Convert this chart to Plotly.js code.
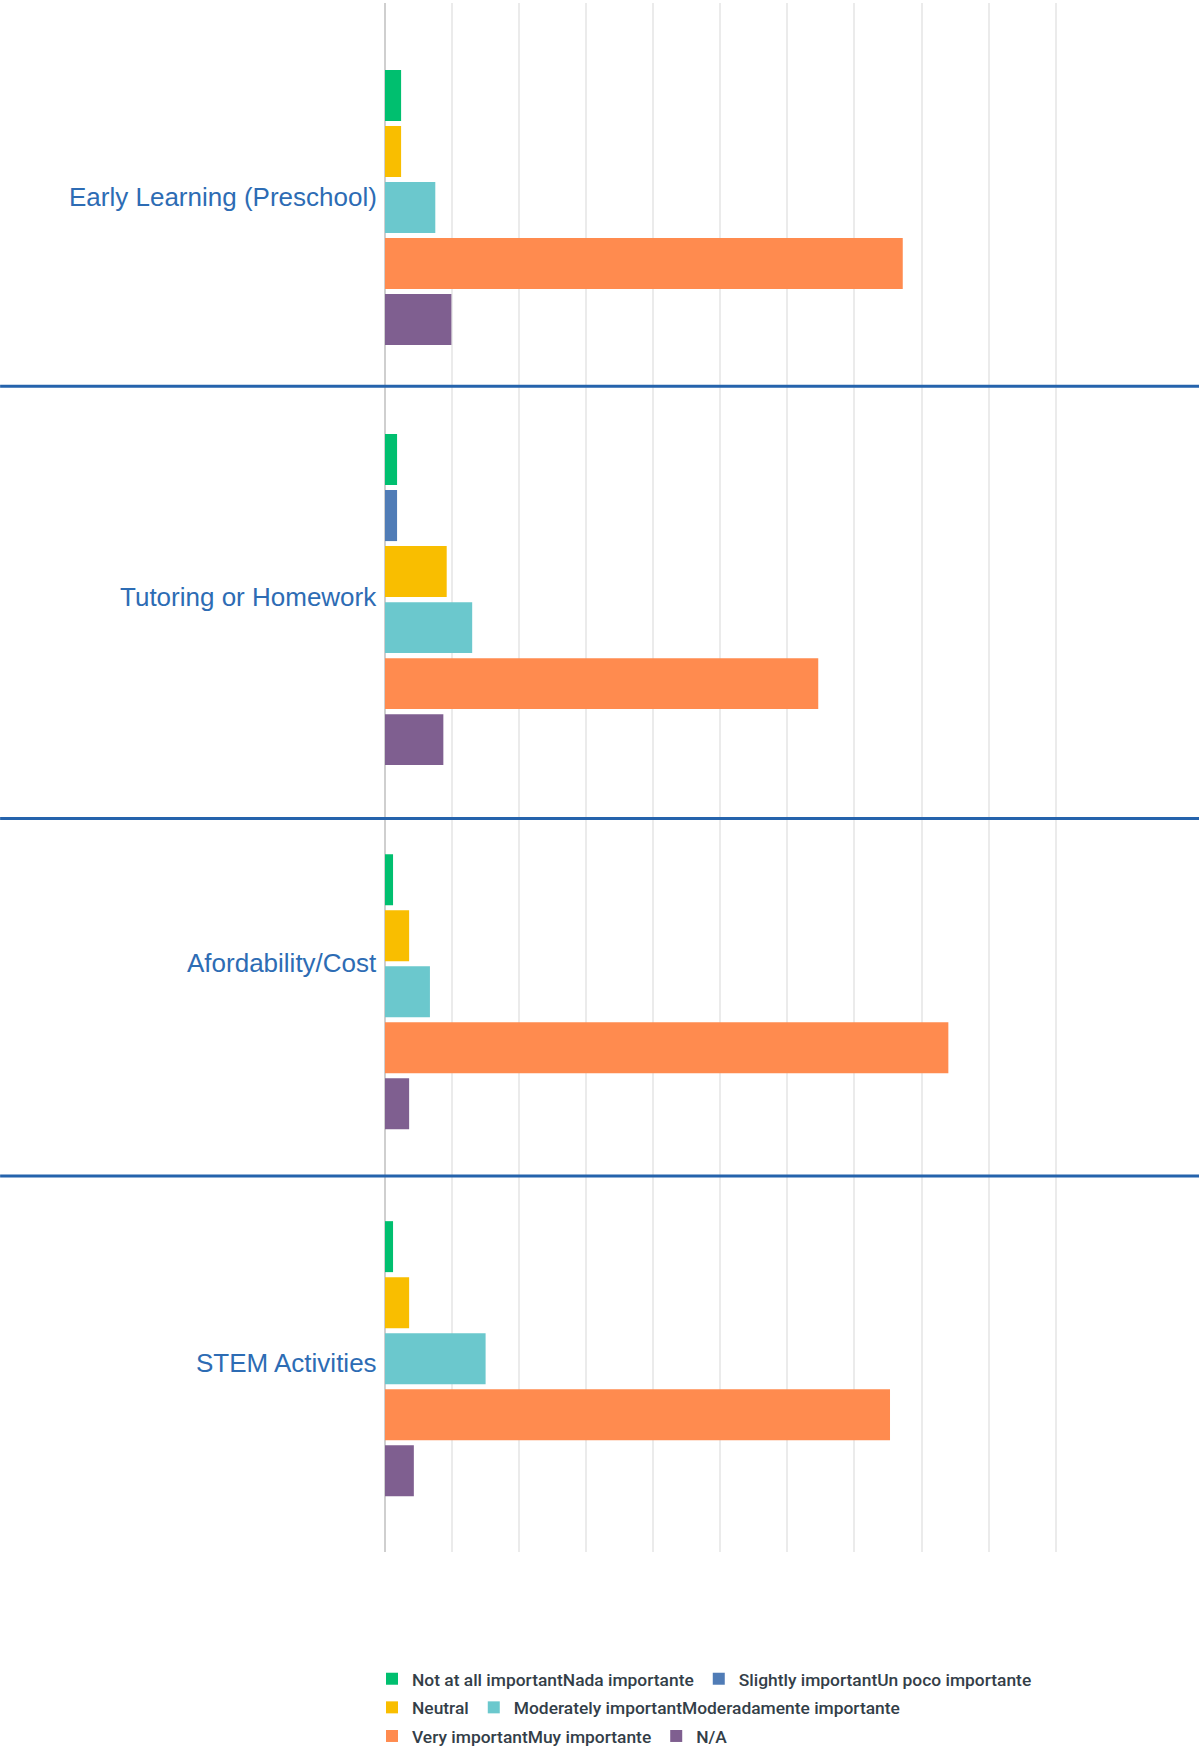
<!DOCTYPE html>
<html>
<head>
<meta charset="utf-8">
<script src="https://cdn.plot.ly/plotly-3.0.1.min.js"></script>
<style>
html,body{margin:0;padding:0;background:#ffffff;}
#chart{width:1199px;height:1752px;}
</style>
</head>
<body>
<div id="chart"></div>
<script>
// ---------- DATA (percent of respondents) ----------
const categories = ["Early Learning (Preschool)", "Tutoring or Homework", "Afordability/Cost", "STEM Activities"];
const levels = [
  "Not at all importantNada importante",
  "Slightly importantUn poco importante",
  "Neutral",
  "Moderately importantModeradamente importante",
  "Very importantMuy importante",
  "N/A"
];
const notAtAllImportant   = [2.4, 1.8, 1.2, 1.2];
const slightlyImportant   = [0,   1.8, 0,   0  ];
const neutral             = [2.4, 9.2, 3.6, 3.6];
const moderatelyImportant = [7.5, 13.0, 6.7, 15.0];
const veryImportant       = [77.2, 64.6, 84.0, 75.3];
const notApplicable       = [9.9, 8.7, 3.6, 4.3];

const seriesValues = [notAtAllImportant, slightlyImportant, neutral, moderatelyImportant, veryImportant, notApplicable];

// ---------- STYLE / LAYOUT ----------
const levelColors = ["#00bf6f", "#507cb6", "#f9be00", "#6bc8cd", "#ff8b4f", "#7f5f90"];
const W = 1199, H = 1752;
const xMax = 100.2;                 // a hair past 100 so the 100% gridline is drawn
const pxPer100 = 670.5;             // width of 0..100 %
const marginL = 384.8, marginT = 3, marginB = 200.3;
const plotW = pxPer100 * xMax / 100;
const marginR = W - marginL - plotW;
const plotH = H - marginT - marginB;
const groupEdgesPx = [3, 386.3, 818.3, 1175.7, 1551.7];
const firstBarCenterPx = [95.4, 459.5, 879.5, 1246.4];
const barPitchPx = 56;
const labelCenterPx = [196.7, 596.7, 963.2, 1363.2];
const legendLeftPx = 372;
const legendTopPx = 1660.6;
const toPaperY = py => 1 - (py - marginT) / plotH;
const axisKey = g => g === 0 ? "yaxis" : "yaxis" + (g + 1);
const axisRef = g => g === 0 ? "y" : "y" + (g + 1);

const traces = [];
levels.forEach((lvl, li) => {
  let first = true;
  categories.forEach((cat, g) => {
    const v = seriesValues[li][g];
    if (!(v > 0)) return;
    traces.push({
      type: "bar",
      orientation: "h",
      x: [v],
      y: [lvl],
      xaxis: "x",
      yaxis: axisRef(g),
      name: lvl,
      legendgroup: lvl,
      showlegend: first,
      marker: { color: levelColors[li] },
      hovertemplate: cat + "<br>" + lvl + ": %{x}%<extra></extra>"
    });
    first = false;
  });
});

const layout = {
  width: W,
  height: H,
  margin: { l: marginL, r: marginR, t: marginT, b: marginB, autoexpand: false },
  paper_bgcolor: "#ffffff",
  plot_bgcolor: "#ffffff",
  font: { family: "Roboto, 'Liberation Sans', sans-serif", color: "#333e48" },
  barmode: "overlay",
  bargap: 0.09,
  showlegend: true,
  xaxis: {
    range: [0, xMax],
    tick0: 0,
    dtick: 10,
    showgrid: true,
    gridcolor: "#ebebeb",
    gridwidth: 1.5,
    zeroline: true,
    zerolinecolor: "#cfcfcf",
    zerolinewidth: 2,
    showticklabels: false,
    ticks: "",
    showline: false,
    anchor: "y4",
    fixedrange: true
  },
  shapes: [],
  annotations: [],
  legend: {
    orientation: "h",
    xref: "container",
    x: legendLeftPx / W,
    xanchor: "left",
    yref: "paper",
    y: toPaperY(legendTopPx),
    yanchor: "top",
    bgcolor: "rgba(0,0,0,0)",
    font: { family: "Roboto, sans-serif", size: 17.4, color: "#333e48", weight: 500 },
    traceorder: "grouped",
    tracegroupgap: 3
  }
};

categories.forEach((cat, g) => {
  const present = levels.filter((l, li) => seriesValues[li][g] > 0);
  const top = -(firstBarCenterPx[g] - groupEdgesPx[g]) / barPitchPx;
  const bottom = top + (groupEdgesPx[g + 1] - groupEdgesPx[g]) / barPitchPx;
  layout[axisKey(g)] = {
    domain: [toPaperY(groupEdgesPx[g + 1]), toPaperY(groupEdgesPx[g])],
    type: "category",
    categoryorder: "array",
    categoryarray: present,
    range: [bottom, top],
    showgrid: false,
    zeroline: false,
    showline: false,
    showticklabels: false,
    ticks: "",
    anchor: "x",
    fixedrange: true
  };
  layout.annotations.push({
    text: cat,
    xref: "paper",
    x: 0,
    xanchor: "right",
    xshift: -6,
    yref: "paper",
    y: toPaperY(labelCenterPx[g]),
    yanchor: "middle",
    showarrow: false,
    font: { family: "'Liberation Sans', Arial, sans-serif", size: 26, color: "#2d6cb4" }
  });
});

// separators between the groups, spanning the full width of the figure
for (let g = 1; g < categories.length; g++) {
  layout.shapes.push({
    type: "line",
    xref: "paper",
    x0: -marginL / plotW,
    x1: (W - marginL) / plotW,
    yref: "paper",
    y0: toPaperY(groupEdgesPx[g]),
    y1: toPaperY(groupEdgesPx[g]),
    line: { color: "#2563ac", width: 3 },
    layer: "above"
  });
}

Plotly.newPlot("chart", traces, layout, { displayModeBar: false, responsive: false });
</script>
</body>
</html>
